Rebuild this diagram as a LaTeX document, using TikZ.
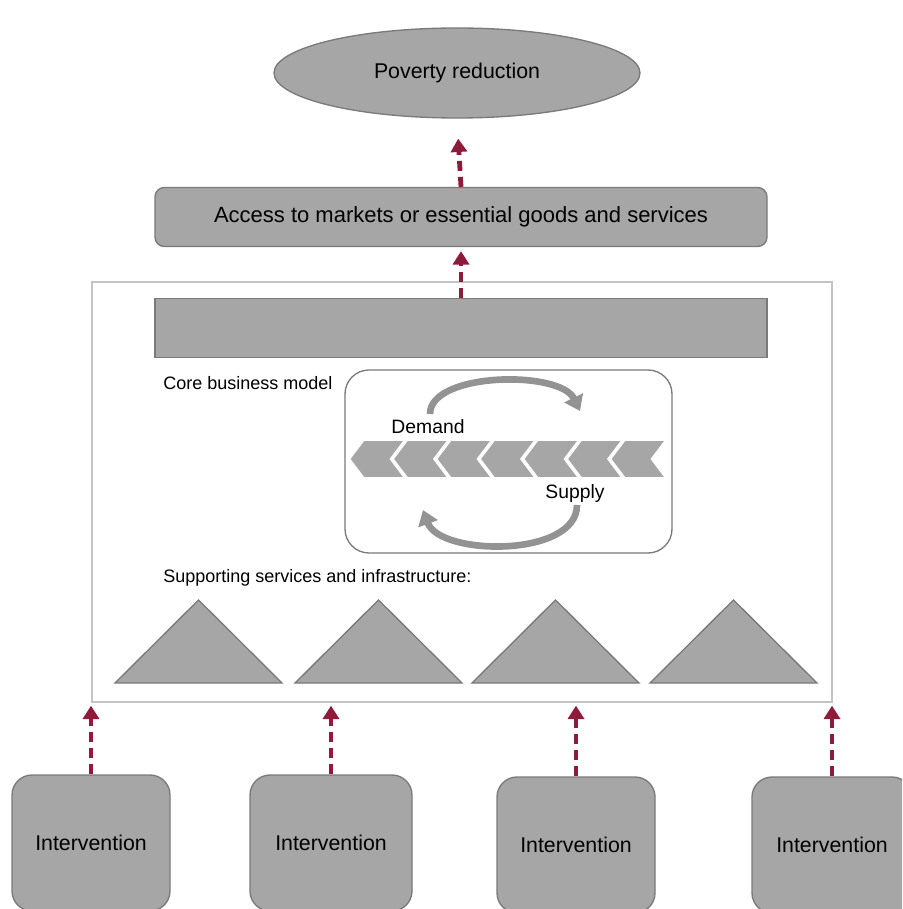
\documentclass[tikz,border=0pt]{standalone}
\usepackage{fontspec}
\setmainfont{Liberation Sans}
\usetikzlibrary{shapes.geometric,arrows.meta}
\definecolor{boxgray}{HTML}{A6A6A6}
\definecolor{edgegray}{HTML}{7A7A7A}
\definecolor{framegray}{HTML}{C4C4C4}
\definecolor{linkred}{HTML}{8E1B3A}
\definecolor{cyclegray}{HTML}{939393}
\tikzset{
  graybox/.style={draw=edgegray, fill=boxgray, line width=1pt, inner sep=0pt, font=\fontsize{16}{19}\selectfont},
  link/.style={linkred, line width=3.6pt, dash pattern=on 7.5pt off 4.5pt, -{Triangle[width=12pt,length=10pt]}},
  cyclearrow/.style={cyclegray, line width=5pt, -{Triangle[width=15pt,length=11pt]}},
  caption/.style={anchor=west, inner sep=0pt, font=\fontsize{13.5}{16}\selectfont},
}

\begin{document}
\begin{tikzpicture}[x=0.75pt,y=-0.75pt]
\useasboundingbox (0,0) rectangle (902,909);
\clip (0,0) rectangle (902,909);

\node[graybox, ellipse, minimum width=274.5pt, minimum height=67.5pt] (poverty) at (457,73) {Poverty reduction};
\node[graybox, rounded corners=7pt, minimum width=459pt, minimum height=44.25pt, font=\fontsize{16.5}{19}\selectfont] (access) at (461,217) {Access to markets or essential goods and services};

\node[draw=framegray, line width=1pt, minimum width=555pt, minimum height=315pt, inner sep=0pt] (frame) at (462,492) {};
\node[graybox, minimum width=459pt, minimum height=44.25pt] (corebar) at (461,328) {};

\node[caption] (coretxt) at (163,383) {Core business model};
\node[draw=edgegray, line width=1pt, rounded corners=18pt, minimum width=245.25pt, minimum height=137.25pt] (corebox) at (508.5,461.5) {};

% value chain
\foreach \i in {0,...,6}
  \fill[boxgray, draw=white, line width=0.6pt] ({350+43.5*\i},459) -- ++(14,-18.5) -- ++(40,0) -- ++(-14,18.5) -- ++(14,18.5) -- ++(-40,0) -- cycle;

\draw[cyclearrow] (430,414) .. controls (430,372) and (560,370) .. (580,411);
\draw[cyclearrow] (577,505) .. controls (577,558) and (440,556) .. (423,510);
\node[font=\fontsize{14.5}{17}\selectfont, inner sep=0pt] (demand) at (428,427) {Demand};
\node[font=\fontsize{14.5}{17}\selectfont, inner sep=0pt] (supply) at (575,493) {Supply};

\node[caption] (supporttxt) at (163,578) {Supporting services and infrastructure:};
\foreach \x in {115,295,472,650}
  \draw[edgegray, fill=boxgray, line width=1pt] (\x,683) -- ++(83.5,-83) -- ++(83.5,83) -- cycle;

\node[graybox, rounded corners=15pt, minimum width=118.5pt, minimum height=102pt] (int1) at (91,843) {Intervention};
\node[graybox, rounded corners=15pt, minimum width=121.5pt, minimum height=102pt] (int2) at (331,843) {Intervention};
\node[graybox, rounded corners=15pt, minimum width=118.5pt, minimum height=102pt] (int3) at (576,845) {Intervention};
\node[graybox, rounded corners=15pt, minimum width=120pt, minimum height=102pt] (int4) at (832,845) {Intervention};

\draw[link, shorten >=15pt] (access.north) -- (poverty.south);
\draw[link, shorten >=3pt] (corebar.north) -- (corebar.north |- access.south);
\foreach \n in {int1,int2,int3,int4}
  \draw[link, shorten >=2.25pt] (\n.north) -- (\n.north |- frame.south);

\end{tikzpicture}
\end{document}
